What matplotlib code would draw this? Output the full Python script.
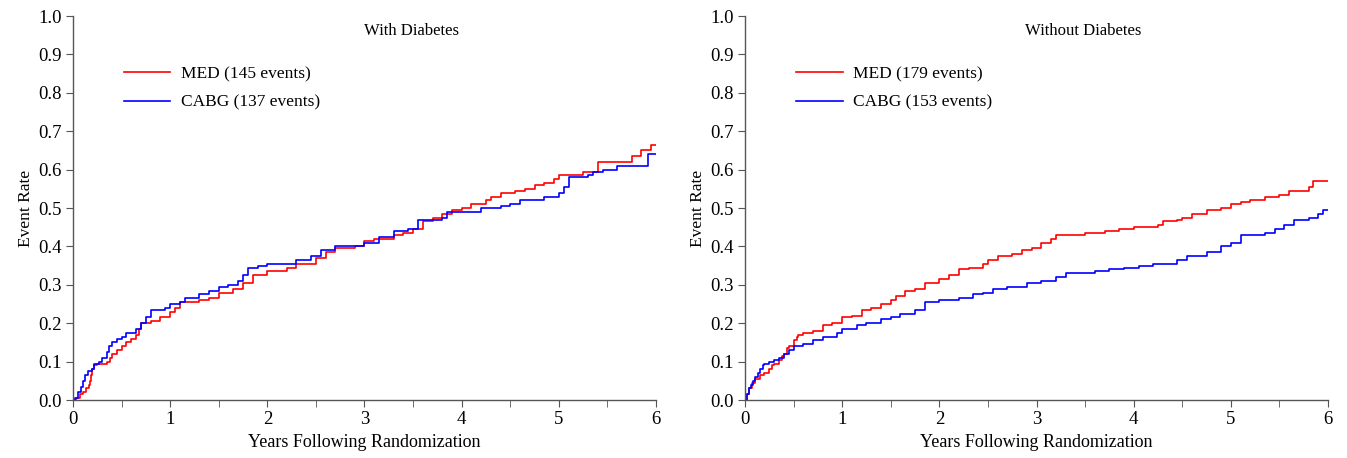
import matplotlib
matplotlib.use("Agg")
import matplotlib.pyplot as plt
from matplotlib.ticker import MultipleLocator

plt.rcParams['font.family'] = ['Liberation Serif', 'DejaVu Serif']

# With diabetes
dm_med_t = [0, 0.03, 0.07, 0.1, 0.13, 0.16, 0.18, 0.19, 0.2, 0.22, 0.25, 0.35, 0.38, 0.4, 0.45,
            0.5, 0.55, 0.6, 0.65, 0.68, 0.7, 0.8, 0.9, 1.0, 1.05, 1.1,
            1.3, 1.4, 1.5, 1.65, 1.75, 1.85, 2.0, 2.2, 2.3, 2.5, 2.6, 2.7, 2.9, 3.0, 3.1, 3.3,
            3.4, 3.5, 3.6, 3.7, 3.8, 3.9, 4.0, 4.1, 4.25, 4.3, 4.4, 4.55, 4.65, 4.75, 4.85,
            4.95, 5.0, 5.25, 5.4, 5.75, 5.85, 5.95, 6.0]
dm_med_y = [0, 0.005, 0.015, 0.02, 0.03, 0.04, 0.05, 0.065, 0.08, 0.09, 0.095, 0.10, 0.11, 0.12,
            0.13, 0.14, 0.15, 0.16, 0.17, 0.185, 0.20, 0.205, 0.215, 0.23,
            0.24, 0.255, 0.26, 0.265, 0.28, 0.29, 0.305, 0.325, 0.335, 0.345, 0.355, 0.37, 0.385,
            0.395, 0.40, 0.415, 0.42, 0.43, 0.435, 0.445, 0.465, 0.475, 0.485, 0.495, 0.50, 0.51,
            0.52, 0.53, 0.54, 0.545, 0.55, 0.56, 0.565, 0.575, 0.585, 0.595, 0.62, 0.635, 0.65,
            0.665, 0.665]
dm_cabg_t = [0, 0.02, 0.05, 0.08, 0.1, 0.12, 0.15, 0.2, 0.22, 0.27, 0.3, 0.35, 0.37, 0.4, 0.45,
             0.5, 0.55, 0.65, 0.7, 0.75, 0.8,
             0.95, 1.0, 1.1, 1.15, 1.3, 1.4, 1.5, 1.6, 1.7, 1.75, 1.8, 1.9, 2.0, 2.3, 2.45, 2.55,
             2.7, 3.0, 3.15, 3.3, 3.45, 3.55, 3.8, 3.85, 4.2, 4.4, 4.5, 4.6, 4.85, 5.0, 5.05,
             5.1, 5.3, 5.35, 5.45, 5.6, 5.92, 6.0]
dm_cabg_y = [0, 0.005, 0.02, 0.035, 0.05, 0.065, 0.075, 0.08, 0.095, 0.10, 0.11, 0.125, 0.14,
             0.15, 0.16, 0.165, 0.175, 0.185, 0.20,
             0.215, 0.235, 0.24, 0.25, 0.255, 0.265, 0.275, 0.285, 0.295, 0.30, 0.31, 0.325,
             0.345, 0.35, 0.355, 0.365, 0.375, 0.39, 0.40, 0.41, 0.425, 0.44, 0.445, 0.47,
             0.475, 0.49, 0.50, 0.505, 0.51, 0.52, 0.53, 0.54, 0.555, 0.58, 0.585, 0.595, 0.60,
             0.61, 0.64, 0.64]

# Without diabetes
nd_med_t = [0, 0.02, 0.04, 0.07, 0.1, 0.15, 0.2, 0.25, 0.28, 0.3, 0.35, 0.38, 0.4, 0.43, 0.45,
            0.5, 0.53, 0.55, 0.6, 0.7, 0.8, 0.9, 1.0,
            1.1, 1.2, 1.3, 1.4, 1.5, 1.55, 1.65, 1.75, 1.85, 2.0, 2.1, 2.2, 2.3, 2.45, 2.5, 2.6,
            2.75, 2.85, 2.95, 3.05, 3.15, 3.2, 3.5, 3.7, 3.85, 4.0, 4.25, 4.3, 4.45, 4.5, 4.6,
            4.75, 4.9, 5.0, 5.1, 5.2, 5.35, 5.5, 5.6, 5.8, 5.85, 6.0]
nd_med_y = [0, 0.015, 0.03, 0.045, 0.055, 0.065, 0.07, 0.08, 0.09, 0.095, 0.105, 0.115, 0.12,
            0.135, 0.14, 0.155, 0.165, 0.17, 0.175, 0.18,
            0.195, 0.20, 0.215, 0.22, 0.235, 0.24, 0.25, 0.26, 0.27, 0.285, 0.29, 0.305, 0.315,
            0.325, 0.34, 0.345, 0.355, 0.365, 0.375, 0.38, 0.39, 0.395, 0.41, 0.42, 0.43, 0.435,
            0.44, 0.445, 0.45, 0.455, 0.465, 0.47, 0.475, 0.485, 0.495, 0.50, 0.51, 0.515, 0.52,
            0.53, 0.535, 0.545, 0.555, 0.57, 0.57]
nd_cabg_t = [0, 0.02, 0.04, 0.06, 0.08, 0.1, 0.13, 0.15, 0.18, 0.2, 0.25, 0.3, 0.35, 0.4, 0.45,
             0.5, 0.6, 0.7, 0.8, 0.95, 1.0, 1.15, 1.25,
             1.4, 1.5, 1.6, 1.75, 1.85, 2.0, 2.2, 2.35, 2.45, 2.55, 2.7, 2.9, 3.05, 3.2, 3.3,
             3.6, 3.75, 3.9, 4.05, 4.2, 4.45, 4.55, 4.75, 4.9, 5.0, 5.1, 5.35, 5.45, 5.55, 5.65,
             5.8, 5.9, 5.95, 6.0]
nd_cabg_y = [0, 0.015, 0.03, 0.04, 0.05, 0.06, 0.07, 0.08, 0.09, 0.095, 0.10, 0.105, 0.11, 0.12,
             0.13, 0.14, 0.145, 0.155, 0.165, 0.175,
             0.185, 0.195, 0.20, 0.21, 0.215, 0.225, 0.235, 0.255, 0.26, 0.265, 0.275, 0.28,
             0.29, 0.295, 0.305, 0.31, 0.32, 0.33, 0.335, 0.34, 0.345, 0.35, 0.355, 0.365, 0.375,
             0.385, 0.40, 0.41, 0.43, 0.435, 0.445, 0.455, 0.47, 0.475, 0.485, 0.495, 0.495]

panels = [
    ("With Diabetes", dm_med_t, dm_med_y, dm_cabg_t, dm_cabg_y, "MED (145 events)", "CABG (137 events)"),
    ("Without Diabetes", nd_med_t, nd_med_y, nd_cabg_t, nd_cabg_y, "MED (179 events)", "CABG (153 events)"),
]

fig = plt.figure(figsize=(13.47, 4.58), dpi=100)
lefts = [0.0542, 0.5531]
fs = 12

for left, (title, mt, my, ct, cy, mlab, clab) in zip(lefts, panels):
    ax = fig.add_axes([left, 0.1266, 0.4328, 0.8384])
    ax.plot(mt, my, drawstyle='steps-post', color='#ff0000', lw=1.2, label=mlab)
    ax.plot(ct, cy, drawstyle='steps-post', color='#0000ff', lw=1.2, label=clab)
    ax.set_xlim(0, 6)
    ax.set_ylim(0, 1.0)
    ax.xaxis.set_major_locator(MultipleLocator(1))
    ax.xaxis.set_minor_locator(MultipleLocator(0.5))
    ax.yaxis.set_major_locator(MultipleLocator(0.1))
    ax.yaxis.set_major_formatter(plt.FuncFormatter(lambda v, p: f"{v:.1f}"))
    ax.spines["top"].set_visible(False)
    ax.spines["right"].set_visible(False)
    for s in ("left", "bottom"):
        ax.spines[s].set_color('#555555')
        ax.spines[s].set_linewidth(1.0)
    ax.tick_params(which='both', direction='out', color='#555555', labelsize=fs + 1.5, pad=3)
    ax.tick_params(which='major', length=5)
    ax.tick_params(which='minor', length=5)
    ax.set_xlabel("Years Following Randomization", fontsize=fs + 1, labelpad=4)
    ax.set_ylabel("Event Rate", fontsize=fs + 0.5, labelpad=3)
    ax.text(0.58, 0.96, title, transform=ax.transAxes, ha='center', va='center', fontsize=fs)
    ax.legend(loc='upper left', bbox_to_anchor=(0.06, 0.91), frameon=False, fontsize=fs + 0.5,
              handlelength=2.7, handletextpad=0.6, labelspacing=0.7)

fig.savefig("out.png", dpi=100)
